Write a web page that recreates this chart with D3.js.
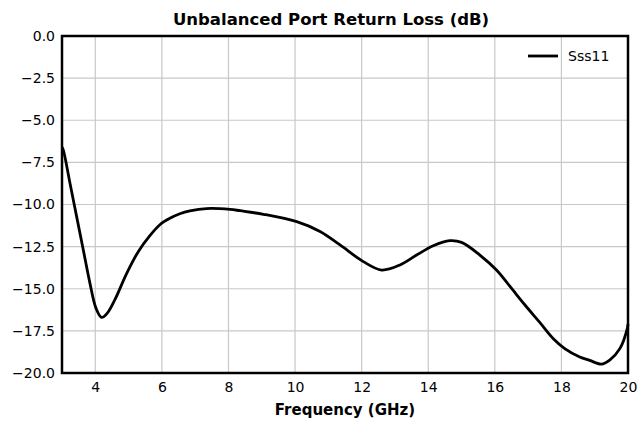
<!DOCTYPE html>
<html>
<head>
<meta charset="utf-8">
<script src="https://cdn.jsdelivr.net/npm/d3@7"></script>
<style>
  body { margin: 0; background: #fff; }
  text { font-family: "DejaVu Sans", sans-serif; }
</style>
</head>
<body>
<div id="chart"></div>
<script>
// frequency (GHz) and Sss11 (dB)
const freq = [3.0, 3.04, 3.24, 3.44, 3.64, 3.84, 4.02, 4.19, 4.36, 4.6, 4.94, 5.29,
  5.64, 5.94, 6.24, 6.54, 6.84, 7.34, 8.05, 8.35, 9.05, 10.05, 10.75, 11.35, 12.05,
  12.6, 13.15, 13.65, 14.15, 14.65, 15.0, 15.55, 16.05, 16.45, 16.9, 17.35, 17.75,
  18.1, 18.55, 18.85, 19.2, 19.45, 19.76, 19.98, 20.0];
const sss11 = [-6.6, -6.77, -8.74, -10.72, -12.7, -14.68, -16.15, -16.7, -16.45,
  -15.6, -14.1, -12.8, -11.85, -11.2, -10.82, -10.55, -10.38, -10.24, -10.29, -10.37,
  -10.58, -11.02, -11.6, -12.4, -13.39, -13.89, -13.59, -13.0, -12.45, -12.15,
  -12.25, -13.0, -13.89, -14.85, -15.95, -17.0, -17.95, -18.55, -19.05, -19.25,
  -19.47, -19.23, -18.54, -17.35, -17.1];
const xTicks = [4, 6, 8, 10, 12, 14, 16, 18, 20];
const yTicks = [0, -2.5, -5, -7.5, -10, -12.5, -15, -17.5, -20];

const W = 638, H = 422;
const margin = { top: 36, right: 10, bottom: 49, left: 62 };
const width = W - margin.left - margin.right;
const height = H - margin.top - margin.bottom;

const svg = d3.select("#chart").append("svg")
  .attr("width", W).attr("height", H);

const g = svg.append("g")
  .attr("transform", `translate(${margin.left},${margin.top})`);

const x = d3.scaleLinear().domain([3, 20]).range([0, width]);
const y = d3.scaleLinear().domain([-20, 0]).range([height, 0]);

// grid
g.append("g").selectAll("line").data(xTicks).join("line")
  .attr("x1", d => x(d)).attr("x2", d => x(d))
  .attr("y1", 0).attr("y2", height)
  .attr("stroke", "#c8c8c8").attr("stroke-width", 1.2);
g.append("g").selectAll("line").data(yTicks).join("line")
  .attr("x1", 0).attr("x2", width)
  .attr("y1", d => y(d)).attr("y2", d => y(d))
  .attr("stroke", "#c8c8c8").attr("stroke-width", 1.2);

// axes (labels only)
const xAxis = g.append("g")
  .attr("transform", `translate(0,${height})`)
  .call(d3.axisBottom(x).tickValues(xTicks).tickSize(0).tickPadding(9));
const yAxis = g.append("g")
  .call(d3.axisLeft(y).tickValues(yTicks).tickSize(0).tickPadding(7)
    .tickFormat(d3.format(".1f")));
[xAxis, yAxis].forEach(a => {
  a.select(".domain").remove();
  a.selectAll("text").attr("font-size", 14).attr("fill", "#000")
    .style("font-family", "DejaVu Sans, sans-serif");
});

// curve
const line = d3.line()
  .x((d, i) => x(freq[i]))
  .y(d => y(d))
  .curve(d3.curveCatmullRom.alpha(0.5));

g.append("path")
  .datum(sss11)
  .attr("d", line)
  .attr("fill", "none")
  .attr("stroke", "#000")
  .attr("stroke-width", 2.8)
  .attr("stroke-linejoin", "round");

// frame
g.append("rect")
  .attr("width", width).attr("height", height)
  .attr("fill", "none").attr("stroke", "#000").attr("stroke-width", 2.5);

// legend
const leg = g.append("g").attr("transform", `translate(${width - 100},20)`);
leg.append("line").attr("x1", 0).attr("x2", 30).attr("y1", 0).attr("y2", 0)
  .attr("stroke", "#000").attr("stroke-width", 2.8);
leg.append("text").attr("x", 40).attr("y", 5)
  .attr("font-size", 14).text("Sss11");

// title
svg.append("text")
  .attr("x", 331).attr("y", 25)
  .attr("text-anchor", "middle").attr("font-size", 16.5).attr("font-weight", "bold")
  .text("Unbalanced Port Return Loss (dB)");

// x label
svg.append("text")
  .attr("x", margin.left + width / 2).attr("y", 415)
  .attr("text-anchor", "middle").attr("font-size", 15).attr("font-weight", "bold")
  .text("Frequency (GHz)");
</script>
</body>
</html>
